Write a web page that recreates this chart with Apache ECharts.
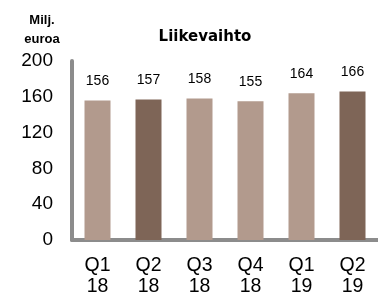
<!DOCTYPE html>
<html>
<head>
<meta charset="utf-8">
<script src="https://cdn.jsdelivr.net/npm/echarts@6/dist/echarts.min.js"></script>
<style>
  html, body { margin: 0; padding: 0; background: #fff; }
  #chart { width: 378px; height: 304px; }
</style>
</head>
<body>
<div id="chart"></div>
<script>
// liikevaihto per quarter
var quarters = ["Q1\n18", "Q2\n18", "Q3\n18", "Q4\n18", "Q1\n19", "Q2\n19"];
var revenue = [156, 157, 158, 155, 164, 166];
// Q2 bars are the dark ones
var isDark = [false, true, false, false, false, true];

var light = "#b29a8d";
var dark = "#7e6557";

var chart = echarts.init(document.getElementById("chart"));
var option = {
  animation: false,
  title: [
    {
      text: "Liikevaihto",
      left: 200, top: 25, textAlign: "center",
      textStyle: { fontFamily: "DejaVu Sans", fontSize: 15, fontWeight: "bold", color: "#000" }
    },
    {
      text: "Milj.\neuroa",
      left: 37, top: 6, textAlign: "center",
      textStyle: { fontFamily: "Liberation Sans", fontSize: 13, fontWeight: "bold", color: "#000", lineHeight: 19 }
    }
  ],
  grid: { left: 72, top: 61, width: 310, bottom: 64 },
  xAxis: {
    type: "category",
    data: quarters,
    axisLine: { lineStyle: { color: "#8c8c8c", width: 4 } },
    axisTick: { show: false },
    axisLabel: {
      margin: 15, fontFamily: "Liberation Sans", fontSize: 19.5, lineHeight: 21, color: "#000"
    }
  },
  yAxis: {
    type: "value",
    min: 0, max: 200, interval: 40,
    splitLine: { show: false },
    axisLine: { show: true, lineStyle: { color: "#8c8c8c", width: 4 } },
    axisTick: { show: false },
    axisLabel: { margin: 19, fontFamily: "Liberation Sans", fontSize: 19, color: "#000" }
  },
  series: [{
    type: "bar",
    barWidth: 26,
    data: revenue.map(function (v, i) {
      return { value: v, itemStyle: { color: isDark[i] ? dark : light } };
    }),
    label: {
      show: true, position: "top", distance: 12,
      fontFamily: "Liberation Sans", fontSize: 14, color: "#000"
    }
  }]
};
chart.setOption(option);
</script>
</body>
</html>
